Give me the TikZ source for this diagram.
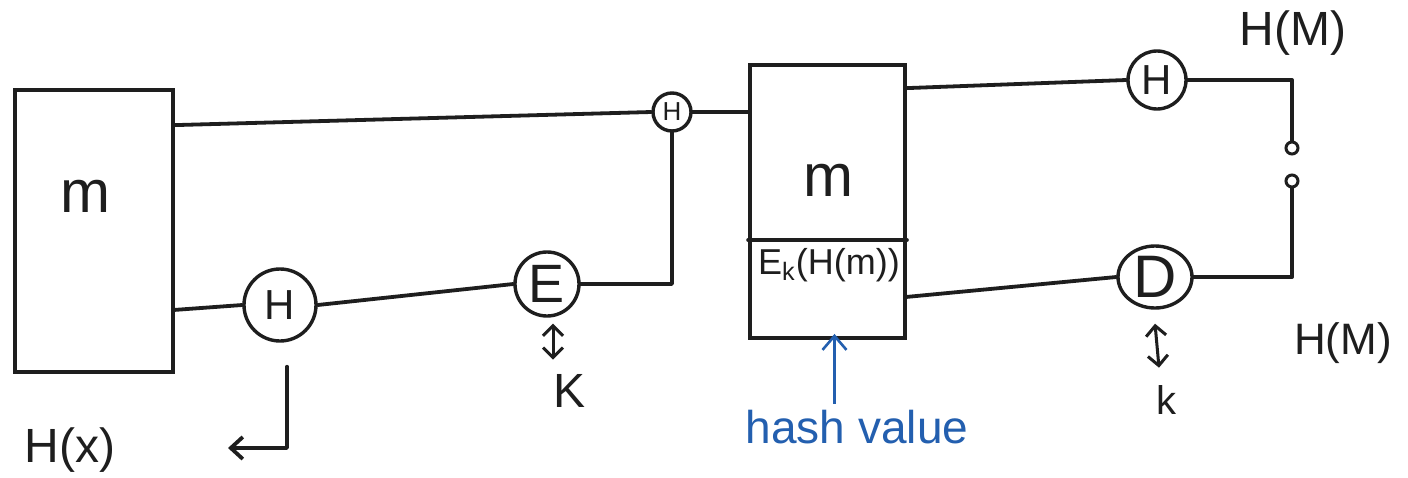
\documentclass[tikz,border=0pt]{standalone}
\usepackage{fontspec}
\setmainfont{Liberation Sans}
\usetikzlibrary{arrows.meta,calc,shapes.geometric}
\definecolor{pen}{RGB}{30,30,30}
\definecolor{ink}{RGB}{35,95,175}
\newcommand{\fsz}[1]{\fontsize{#1}{#1}\selectfont}
\begin{document}
\begin{tikzpicture}[x=0.5pt,y=-0.5pt,
  wire/.style={draw=pen, line width=1.9pt, line cap=round, line join=round},
  blk/.style={draw=pen, line width=1.9pt, inner sep=0pt},
  op/.style={draw=pen, circle, line width=1.7pt, inner sep=0pt, text=pen},
  contact/.style={draw=pen, circle, line width=1.5pt, minimum size=6pt, inner sep=0pt},
  lbl/.style={inner sep=0pt, text=pen},
  keyarrow/.style={draw=pen, line width=1.5pt,
    {Straight Barb[length=5pt,width=10pt]}-{Straight Barb[length=5pt,width=10pt]}},
  outarrow/.style={wire, -{Straight Barb[length=6pt,width=11pt]}},
  note/.style={inner sep=0pt, text=ink, font=\fsz{23}},
  notearrow/.style={draw=ink, line width=1.3pt, -{Straight Barb[length=7pt,width=12pt]}}]

\path[use as bounding box, fill=white] (0,0) rectangle (1408,477);

% sender side: message block, hash and encryption
\node[blk, minimum width=79pt, minimum height=141pt] (lbox) at (94,231) {};
\node[lbl, font=\fsz{30}] (lm) at (85,196) {m};
\node[op, minimum size=36pt, font=\fsz{21}] (h1) at (280,305) {H};
\node[op, minimum size=32pt, font=\fsz{27}] (enc) at (547,284) {E};
\node[op, minimum size=19pt, font=\fsz{13}] (h2) at (672,112) {H};
\coordinate (j) at (h2 |- enc);

\draw[wire] ($(lbox.north east)+(0,37)$) -- (h2.west);
\draw[wire] ($(lbox.south east)+(0,-64)$) -- (h1.west);
\draw[wire] (h1.east) -- (enc.west);
\draw[wire] (enc.east) -- (j) -- (h2.south);

% key for the encryption
\node[lbl, font=\fsz{24}] (kE) at (570,391) {K};
\draw[keyarrow] ([xshift=3pt,yshift=-3pt]enc.south) -- ([xshift=3pt,yshift=-21pt]enc.south);

% hash output
\node[lbl, font=\fsz{24}] (hx) at (70,450) {H(x)};
\coordinate (hxend) at (228,448);
\draw[outarrow] ([xshift=3.5pt,yshift=-12pt]h1.south) |- (hxend);

% transmitted block: message plus encrypted hash
\node[blk, minimum width=77.5pt, minimum height=136.5pt] (mbox) at (827.5,201.5) {};
\draw[wire] ($(mbox.west)+(0,38.5)$) -- ($(mbox.east)+(0,38.5)$);
\node[lbl, font=\fsz{30}] (mm) at (828,180) {m};
\node[lbl, font=\fsz{18}] (ek) at (829,265) {E\textsubscript{k}(H(m))};
\draw[wire] (h2.east) -- (h2.east -| mbox.west);

% hash value annotation
\node[note] (hv) at (857,427) {hash value};
\coordinate (hvtip) at ($(mbox.south)+(7,-6)$);
\draw[notearrow] (hvtip |- hv.north) ++(0,-6) -- (hvtip);

% receiver side: hash, decryption and comparison
\node[op, minimum size=29pt, font=\fsz{21}] (h3) at (1157,80) {H};
\node[op, ellipse, minimum width=37pt, minimum height=31pt, font=\fsz{30}] (dec) at (1155,277) {D};
\node[contact] (s1) at (1292,148) {};
\node[contact] (s2) at (1292,181) {};
\coordinate (c1) at (s1 |- h3);
\coordinate (c2) at (s2 |- dec);

\draw[wire] ($(mbox.north east)+(0,25)$) -- (h3.west);
\draw[wire] (h3.east) -- (c1) -- (s1.north);
\draw[wire] (s2.south) -- (c2) -- (dec.east);
\draw[wire] (dec.west) -- ($(mbox.south east)+(0,-43)$);

\node[lbl, font=\fsz{20}] (kD) at (1166,400) {k};
\draw[keyarrow] ([xshift=0pt,yshift=-7pt]dec.south) -- ([xshift=2pt,yshift=-29pt]dec.south);

\node[lbl, font=\fsz{24}] (hm1) at (1293,33) {H(M)};
\node[lbl, font=\fsz{22}] (hm2) at (1343,343) {H(M)};
\end{tikzpicture}
\end{document}
